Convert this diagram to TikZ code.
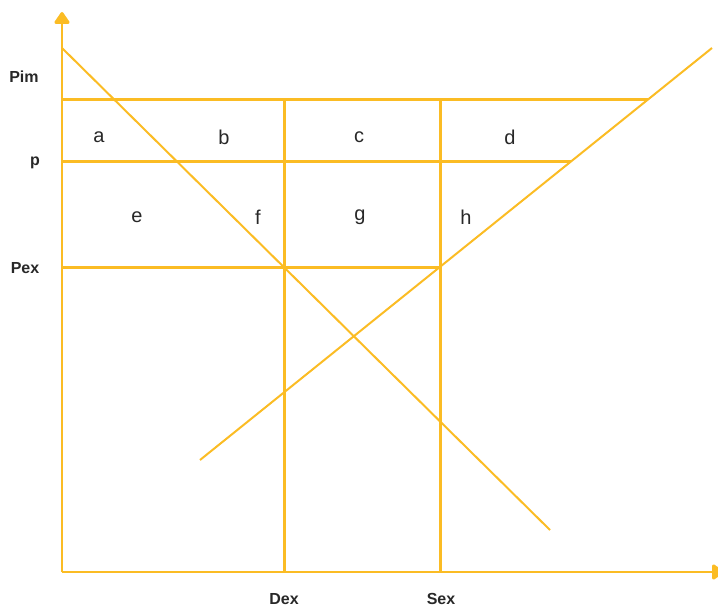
\documentclass[tikz,border=0pt]{standalone}
\usepackage{fontspec}
\setmainfont{Liberation Sans}
\usepackage{xcolor}
\usetikzlibrary{arrows.meta}
\definecolor{amber}{RGB}{251,188,36}
\definecolor{ink}{RGB}{40,40,40}

\begin{document}
\begin{tikzpicture}
    [x=1pt, y=-1pt,
     axis/.style={draw=amber, line width=2.8pt, -{Triangle[round, length=13pt, width=17pt]}},
     grid/.style={draw=amber, line width=3pt},
     curve/.style={draw=amber, line width=2pt},
     price/.style={font=\fontsize{16}{18}\selectfont\bfseries, text=ink},
     area/.style={font=\fontsize{20}{22}\selectfont, text=ink}]
    \useasboundingbox (0,0) rectangle (718,607);
    % axes
    \coordinate (o) at (62,572);
    \coordinate (ytop) at (62,12);
    \coordinate (xend) at (724,572);
    % price levels and quantities
    \coordinate (pim0) at (62,100);
    \coordinate (pim1) at (648,100);
    \coordinate (p0) at (62,162);
    \coordinate (p1) at (571,162);
    \coordinate (pex0) at (62,267);
    \coordinate (pex1) at (440,267);
    \coordinate (dex0) at (284,100);
    \coordinate (dex1) at (284,572);
    \coordinate (sex0) at (440,100);
    \coordinate (sex1) at (440,572);
    % demand and supply
    \coordinate (d0) at (62,48);
    \coordinate (d1) at (550,530);
    \coordinate (s0) at (200,460);
    \coordinate (s1) at (712,48);
    \draw[grid] (pim0) -- (pim1);
    \draw[grid] (p0) -- (p1);
    \draw[grid] (pex0) -- (pex1);
    \draw[grid] (dex0) -- (dex1);
    \draw[grid] (sex0) -- (sex1);
    \draw[curve] (d0) -- (d1);
    \draw[curve] (s0) -- (s1);
    \draw[axis] (o) -- (ytop);
    \draw[axis] (o) -- (xend);
    % labels
    \node[price] (pim) at (24,77) {Pim};
    \node[price] (p) at (35,163) {p};
    \node[price] (pex) at (25,268) {Pex};
    \node[price] (dex) at (284,599) {Dex};
    \node[price] (sex) at (441,599) {Sex};
    \node[area] (a) at (99,137) {a};
    \node[area] (b) at (224,137) {b};
    \node[area] (c) at (359,137) {c};
    \node[area] (d) at (510,137) {d};
    \node[area] (e) at (137,217) {e};
    \node[area] (f) at (258,217) {f};
    \node[area] (g) at (360,217) {g};
    \node[area] (h) at (466,217) {h};
\end{tikzpicture}
\end{document}
